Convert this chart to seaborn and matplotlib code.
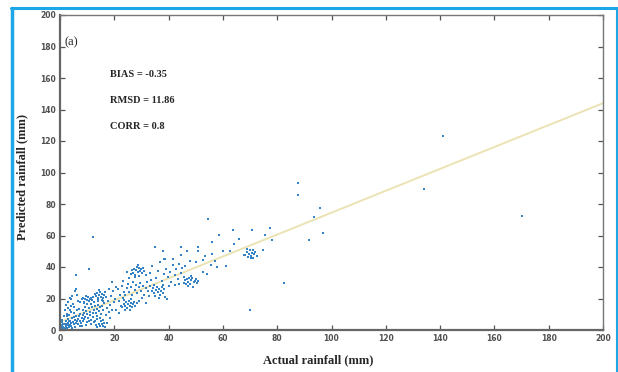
import matplotlib
matplotlib.use("Agg")
import matplotlib.pyplot as plt
import seaborn as sns
import pandas as pd
from matplotlib.lines import Line2D

points = [
    # near origin
    (0.3,0.5),(0.5,1.2),(0.8,0.3),(1.0,2.0),(1.2,0.8),(0.4,3.0),(1.5,1.5),(1.8,3.5),(2.0,0.6),(2.2,2.4),
    (0.6,5.2),(1.1,4.1),(2.5,1.2),(2.8,3.0),(3.0,4.5),(0.2,1.8),(1.4,0.2),(2.3,5.6),(0.9,6.5),(3.2,2.1),
    (0.1,0.1),(0.7,2.7),(1.7,1.0),(2.6,4.0),(3.4,5.5),
    # band x 3-9
    (3.5,3.2),(3.8,6.0),(4.0,4.4),(4.2,2.5),(4.5,7.5),(4.8,5.1),(5.0,3.6),(5.2,8.2),(5.5,6.3),(5.8,4.7),
    (6.0,9.0),(6.2,5.5),(6.5,7.1),(6.8,3.9),(7.0,8.6),(7.2,6.0),(7.5,10.2),(7.8,4.5),(8.0,7.8),(8.3,9.4),
    (8.6,5.8),(8.9,11.0),(3.2,9.5),(4.1,11.5),(5.1,10.8),(3.0,7.0),(2.7,8.8),(6.3,12.4),(7.4,2.8),(5.6,1.9),
    (4.4,1.2),(6.9,13.5),(8.1,2.3),(9.0,6.9),(3.6,13.0),(2.4,10.4),(2.0,12.8),(3.9,15.2),(5.3,14.6),(1.5,9.0),
    # upper small x
    (2.3,16.0),(3.1,17.5),(4.0,19.8),(4.6,21.5),(5.4,24.5),(5.9,26.0),(6.1,22.0),(5.9,35.0),(10.7,38.6),
    (12.0,59.0),(3.5,20.2),(2.8,14.2),(4.8,16.8),(6.7,18.3),
    # cluster x 8-12, y 17-21
    (8.0,19.5),(8.5,20.5),(9.0,18.0),(9.3,20.0),(9.8,19.2),(10.2,20.8),(10.5,18.5),(11.0,19.8),(11.4,20.4),
    (11.8,18.9),(8.7,17.2),(10.0,16.5),(12.2,21.0),(7.5,17.8),(9.6,21.4),
    # cluster x 8-16, y 6-19
    (9.2,8.5),(9.5,12.0),(9.9,10.2),(10.3,7.5),(10.6,13.8),(10.9,9.5),(11.2,11.2),(11.5,6.5),(11.8,14.5),
    (12.0,10.5),(12.3,8.0),(12.6,12.8),(12.9,15.5),(13.2,11.0),(13.5,9.2),(13.8,13.5),(14.1,16.0),(14.4,12.0),
    (14.7,14.8),(15.0,10.0),(10.1,4.8),(9.7,3.2),(10.8,5.5),(11.6,3.8),(12.4,5.2),(15.5,15.2),(16.0,12.5),
    (16.3,17.0),(8.4,13.0),(9.1,14.8),(11.3,16.2),(12.7,17.6),(13.9,18.5),(15.3,19.0),(8.8,10.6),
    # cluster x 13-17, y 2-7
    (13.0,5.5),(13.4,3.2),(13.8,6.8),(14.2,4.1),(14.6,2.5),(15.0,5.9),(15.4,3.7),(15.8,6.2),(16.2,4.6),
    (13.6,1.8),(14.9,7.5),(16.6,2.2),
    # cluster x 13-17, y 19-25
    (13.2,21.5),(13.6,23.2),(14.0,20.2),(14.3,22.5),(14.7,24.0),(15.0,21.0),(15.3,23.0),(15.7,20.5),
    (16.1,22.2),(13.9,19.0),(14.5,25.5),(16.5,24.3),(12.8,22.8),(15.9,18.5),(17.0,21.0),
    # scatter x 16-24
    (16.8,9.5),(17.2,14.0),(17.6,18.5),(18.0,11.5),(18.4,16.0),(18.8,21.5),(19.2,13.0),(19.6,24.5),
    (20.0,17.5),(20.4,20.0),(20.8,12.5),(21.2,26.0),(21.6,18.5),(22.0,22.5),(22.4,15.0),(22.8,28.0),
    (23.2,20.5),(23.6,24.0),(19.0,30.5),(20.6,27.0),(17.9,26.0),(18.6,7.5),(21.9,10.5),(17.4,4.5),(16.0,2.8),
    # cluster x 23-28, y 13-19
    (23.0,14.5),(23.4,16.8),(23.8,15.2),(24.2,17.5),(24.6,14.0),(25.0,16.2),(25.4,18.3),(25.8,15.5),
    (26.2,17.0),(26.6,14.8),(27.0,16.5),(27.4,18.0),(24.0,13.0),(25.6,12.5),(27.8,15.0),(23.5,18.8),
    (26.0,19.5),(28.2,17.2),
    # cluster x 26-31, y 34-40
    (26.0,35.5),(26.5,37.8),(27.0,36.2),(27.3,39.0),(27.7,35.0),(28.0,38.2),(28.4,40.0),(28.8,36.8),
    (29.1,39.5),(29.5,37.5),(29.9,38.8),(30.3,36.0),(30.7,39.2),(31.1,37.2),(27.5,33.5),(29.0,34.5),
    (25.5,33.0),(31.5,35.0),(28.6,41.2),(24.8,37.0),
    # scatter x 24-34, y 20-33
    (24.0,22.5),(24.5,26.5),(25.0,29.0),(25.5,24.0),(26.0,27.5),(26.5,22.0),(27.0,30.5),(27.5,25.5),
    (28.0,28.5),(28.5,23.5),(29.0,27.0),(29.5,30.0),(30.0,25.0),(30.5,28.2),(31.0,22.5),(31.5,26.5),
    (32.0,30.5),(32.5,24.5),(33.0,28.0),(33.5,32.0),(30.2,20.5),(32.8,21.5),(29.2,18.5),(31.8,17.0),(23.2,31.0),
    # cluster x 34-39, y 22-28
    (34.0,24.5),(34.4,26.8),(34.8,23.2),(35.2,25.5),(35.6,27.5),(36.0,24.0),(36.4,26.2),(36.8,22.5),
    (37.2,25.0),(37.6,27.0),(38.0,23.8),(38.4,25.8),(35.0,21.5),(36.6,20.5),(38.8,21.0),(39.4,19.8),
    (37.9,28.8),(34.6,28.5),
    # scatter x 33-45
    (33.2,36.0),(34.0,40.5),(35.0,53.0),(35.5,33.0),(36.2,37.5),(36.8,43.0),(37.5,31.0),(38.2,35.5),
    (38.6,45.2),(39.2,39.0),(39.8,33.5),(40.4,37.0),(41.0,30.5),(41.6,41.5),(42.2,35.0),(42.8,38.5),
    (43.4,32.5),(44.0,42.0),(44.5,36.0),(45.0,39.5),(40.0,28.0),(42.5,28.5),(43.8,29.5),(44.7,47.5),(38.0,50.0),
    # cluster x 45-51, y 28-34
    (45.5,30.0),(46.0,31.8),(46.4,29.0),(46.8,32.5),(47.2,30.5),(47.6,33.0),(48.0,29.5),(48.4,31.5),
    (48.8,32.8),(49.2,30.2),(49.6,31.0),(50.0,32.2),(50.4,29.8),(47.0,27.8),(49.0,27.5),(51.0,30.8),
    (45.8,33.8),(48.2,34.5),
    # scatter x 44-71
    (44.5,53.0),(46.6,50.0),(51.0,53.0),(51.0,50.0),(41.7,45.0),(38.4,45.0),(52.5,44.5),(50.0,43.4),
    (56.0,48.0),(60.0,50.0),(62.6,50.0),(61.0,40.7),(58.0,40.0),(64.0,54.4),(67.9,47.7),(58.4,60.6),
    (56.0,56.0),(63.8,63.6),(70.6,63.6),(54.6,70.3),(52.5,37.0),(54.0,35.5),(55.5,41.5),(46.0,40.5),
    (48.0,44.0),(53.5,47.0),(57.2,44.0),
    # cluster x 68-72, y 46-51
    (68.3,47.5),(68.8,49.5),(69.2,46.5),(69.6,48.5),(70.0,50.5),(70.4,47.2),(70.8,49.0),(71.2,51.0),
    (71.6,48.0),(72.0,49.8),(69.0,51.2),(70.2,45.5),(72.5,47.0),(71.0,46.0),
    # outliers
    (70.0,13.0),(74.8,51.0),(77.3,65.0),(78.0,57.0),(82.5,29.7),(87.6,93.6),(87.6,86.0),(91.6,57.0),
    (93.5,71.6),(95.8,77.5),(96.7,61.9),(134.0,89.6),(141.2,123.2),(170.2,72.5),(75.5,60.5),(66.0,58.0),
]

actual = [p[0] for p in points]
predicted = [p[1] for p in points]

fit_x = [0, 200]
fit_y = [5.0, 144.0]

x_ticks = [0, 20, 40, 60, 80, 100, 120, 140, 160, 180, 200]
y_ticks = [0, 20, 40, 60, 80, 100, 120, 140, 160, 180, 200]
stats_labels = ["BIAS = -0.35", "RMSD = 11.86", "CORR = 0.8"]
stats_y = [162, 145.5, 129]

sns.set_style("ticks")
plt.rcParams['font.family'] = ['Liberation Serif', 'DejaVu Serif']

fig = plt.figure(figsize=(6.18, 3.72), dpi=100)
ax = fig.add_axes([60/618, 1-330/372, 543/618, 315/372])

df = pd.DataFrame({"actual": actual, "predicted": predicted})
ax.plot(fit_x, fit_y, color="#ebe3b3", lw=1.4, zorder=1)
sns.scatterplot(data=df, x="actual", y="predicted", ax=ax, s=3.5, color="#3583c4",
                linewidth=0, marker="s", zorder=2)

ax.set_xlim(0, 200)
ax.set_ylim(0, 200)
ax.set_xticks(x_ticks)
ax.set_yticks(y_ticks)
ax.tick_params(direction="in", top=True, right=True, length=3.5, width=0.9,
               color="#555555", labelsize=5.5, labelcolor="#505050", pad=3)
for lab in ax.get_xticklabels() + ax.get_yticklabels():
    lab.set_fontfamily(['DejaVu Sans'])
    lab.set_fontweight('bold')
for side in ["left", "bottom"]:
    ax.spines[side].set_linewidth(1.6)
    ax.spines[side].set_color("#666666")
for side in ["top", "right"]:
    ax.spines[side].set_linewidth(1.0)
    ax.spines[side].set_color("#777777")

ax.set_xlabel("")
ax.set_ylabel("")
fig.text(318/618, 1-360/372, "Actual rainfall (mm)", ha="center", va="center",
         fontsize=9, fontweight="bold")
fig.text(22/618, 1-177/372, "Predicted rainfall (mm)", ha="center", va="center",
         fontsize=9, fontweight="bold", rotation=90)

ax.text(1.5, 182.5, "(a)", fontsize=9, va="center", ha="left")
for lbl, yy in zip(stats_labels, stats_y):
    ax.text(18.4, yy, lbl, fontsize=7.5, fontweight="bold", va="center", ha="left")

# light blue frame
blue = "#1ea7e6"
fig.add_artist(Line2D([12/618, 12/618], [0, 1-8/372], color=blue, lw=2.5, transform=fig.transFigure))
fig.add_artist(Line2D([11/618, 617/618], [1-8/372, 1-8/372], color=blue, lw=2.2, transform=fig.transFigure))
fig.add_artist(Line2D([616.5/618, 616.5/618], [0, 1-8/372], color=blue, lw=1.5, transform=fig.transFigure))

fig.savefig("out.png", dpi=100)
